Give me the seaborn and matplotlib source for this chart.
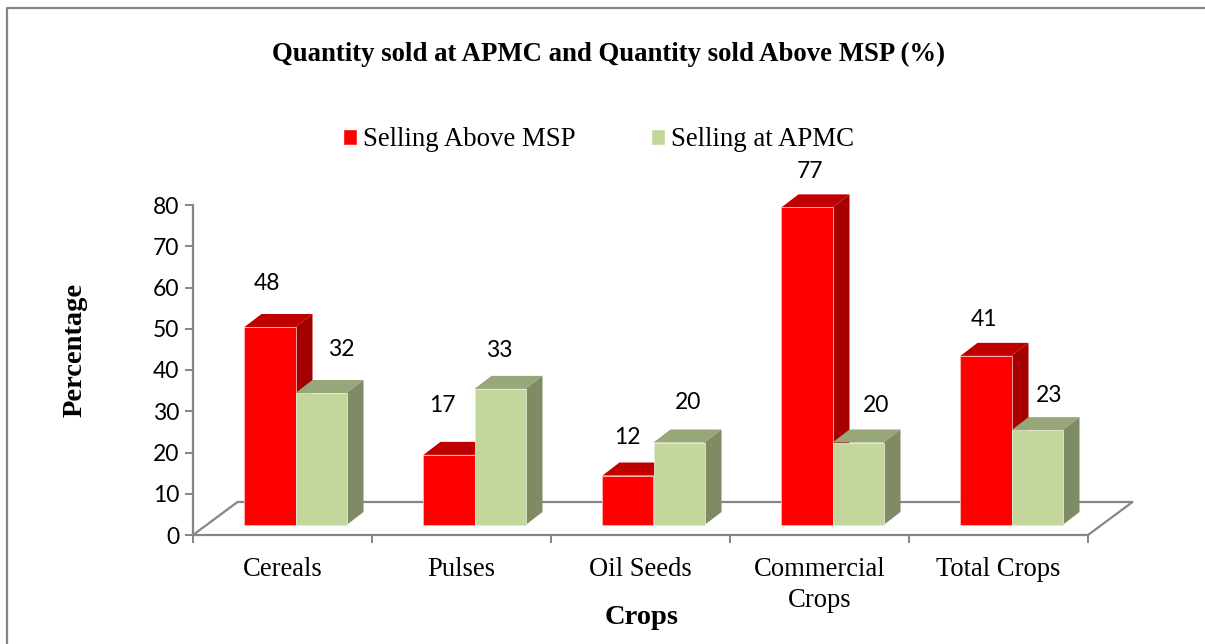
import pandas as pd
import matplotlib
matplotlib.use("Agg")
import matplotlib.pyplot as plt
import seaborn as sns
from matplotlib.lines import Line2D
from matplotlib.patches import Polygon

# Chart data
crops = ['Cereals', 'Pulses', 'Oil Seeds', 'Commercial\nCrops', 'Total Crops']
above_msp = [48, 17, 12, 77, 41]
at_apmc = [32, 33, 20, 20, 23]

red = '#FF0000'
green = '#C3D69B'
gray = '#868686'
serif = 'Liberation Serif'
sans = 'Lato'

W, H = 1205, 644

df = pd.DataFrame({'Crop': crops * 2,
                   'Percentage': above_msp + at_apmc,
                   'Series': ['Selling Above MSP'] * 5 + ['Selling at APMC'] * 5})

sns.set_style("white")
plt.rcParams['text.color'] = 'black'
plt.rcParams['xtick.labelcolor'] = 'black'
plt.rcParams['ytick.labelcolor'] = 'black'
plt.rcParams['axes.labelcolor'] = 'black'
fig = plt.figure(figsize=(W / 100, H / 100), dpi=100, facecolor='white')
ax = fig.add_axes([193 / W, 1 - 535 / H, 895 / W, 330 / H])

sns.barplot(data=df, x='Crop', y='Percentage', hue='Series', palette=[red, green],
            saturation=1, width=0.57, gap=0, ax=ax)
ax.set_ylim(0, 80)
ax.set_xlim(-0.5, 4.5)
ax.patch.set_alpha(0)

# pixels to data units
px = 1 / 179
py = 80 / 330
x_shift, base = 13 * px, 10 * py
depth_x, depth_y = 17 * px, 13 * py

# floor of the 3D box
x0, x1 = ax.get_xlim()
fx, fy = 44.5 * px, 33 * py
floor = Line2D([x0, x0 + fx, x1 + fx, x1], [0, fy, fy, 0], color=gray, lw=1.6,
               clip_on=False, zorder=1)
ax.add_line(floor)

# extrude the bars
styles = [('#C00000', '#A50000', '#FFB4B4', 2), ('#98A77A', '#7F8B65', '#E2EBCF', 4)]
for cont, (top_c, side_c, edge_c, z) in zip(ax.containers, styles):
    for b in cont.patches:
        h = b.get_height()
        b.set_x(b.get_x() + x_shift)
        b.set_y(base)
        b.set_edgecolor(edge_c)
        b.set_linewidth(0.6)
        b.set_zorder(z + 1)
        l, r, t = b.get_x(), b.get_x() + b.get_width(), base + h
        ax.add_patch(Polygon([(l, t), (l + depth_x, t + depth_y), (r + depth_x, t + depth_y), (r, t)],
                             fc=top_c, ec='none', clip_on=False, zorder=z))
        ax.add_patch(Polygon([(r, base), (r + depth_x, base + depth_y), (r + depth_x, t + depth_y), (r, t)],
                             fc=side_c, ec='none', clip_on=False, zorder=z))

# data labels, hand placed as in the original
red_offsets = [(-3, 44), (-7, 49), (-1, 38), (3, 36), (-2, 36)]
green_offsets = [(20, 44), (-1, 38), (9, 40), (18, 37), (12, 35)]
for cont, offs in zip(ax.containers, [red_offsets, green_offsets]):
    for b, off in zip(cont.patches, offs):
        ax.annotate(f'{b.get_height():.0f}', (b.get_x() + b.get_width() / 2, base + b.get_height()),
                    xytext=off, textcoords='offset pixels', ha='center', va='center',
                    family=sans, fontsize=16.5, color='black', annotation_clip=False, zorder=10)

# axes
sns.despine(ax=ax)
for s in ['left', 'bottom']:
    ax.spines[s].set_color(gray)
    ax.spines[s].set_linewidth(1.6)
ax.set_yticks(range(0, 81, 10))
ax.set_xticks([x0 + i for i in range(6)], minor=True)
ax.tick_params(axis='y', which='major', left=True, length=6, width=1.4, color=gray,
               labelsize=16.5, pad=4)
ax.tick_params(axis='x', which='minor', bottom=True, length=6, width=1.4, color=gray)
ax.tick_params(axis='x', which='major', bottom=False, labelsize=19.2, pad=12)
for t in ax.get_yticklabels():
    t.set_family(sans)
for t in ax.get_xticklabels():
    t.set_family(serif)
    t.set_linespacing(1.35)

ax.set_xlabel('Crops', family=serif, weight='bold', fontsize=20.5, va='center')
ax.xaxis.set_label_coords((642 - 193) / 895, (535 - 617) / 330)
ax.set_ylabel('Percentage', family=serif, weight='bold', fontsize=20.5, va='center')
ax.yaxis.set_label_coords((75 - 193) / 895, (535 - 350) / 330)

fig.suptitle('Quantity sold at APMC and Quantity sold Above MSP (%)', x=609 / W, y=1 - 54 / H,
             va='center', family=serif, weight='bold', fontsize=19.3)

handles, labels = ax.get_legend_handles_labels()
ax.legend(handles, labels, ncol=2, loc='center', bbox_to_anchor=(599 / W, 1 - 140 / H),
          bbox_transform=fig.transFigure, frameon=False, handlelength=0.52, handleheight=0.52,
          handletextpad=0.22, columnspacing=2.8, borderpad=0, borderaxespad=0,
          prop={'family': serif, 'size': 19.4})

# outer chart border (top and left only are in the crop)
fig.add_artist(Line2D([7 / W, 7 / W, 1], [0, 1 - 8 / H, 1 - 8 / H], color=gray, lw=1.6))

plt.savefig('out.png', dpi=100, facecolor='white')
